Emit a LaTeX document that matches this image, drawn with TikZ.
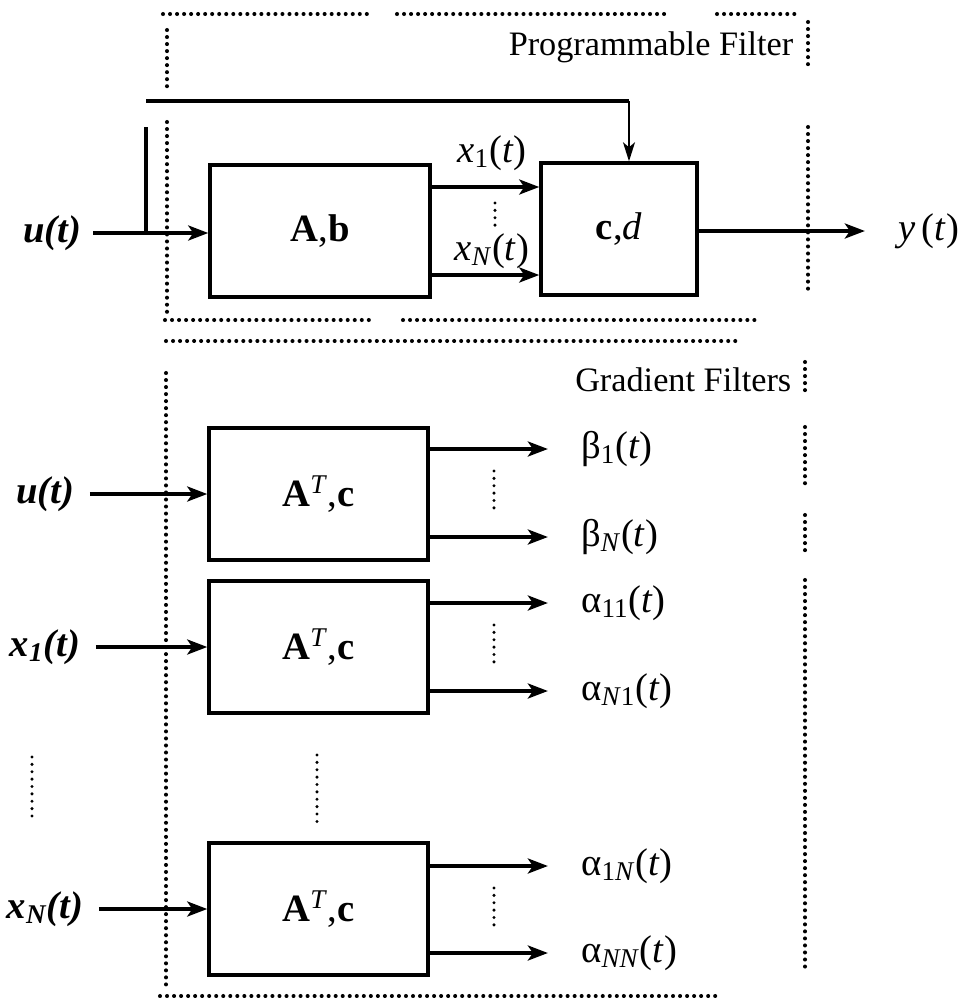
\documentclass[tikz,border=0pt]{standalone}
\usepackage{fontspec}
\setmainfont{Liberation Serif}
\usetikzlibrary{arrows.meta, positioning, calc}
\newcommand{\sgl}[2]{#1\textsubscript{#2}(\textit{t})}
\tikzset{
  every picture/.style={line width=2pt, font=\fontsize{22}{26}\selectfont},
  blk/.style={draw, line width=2pt, minimum height=2.64cm, inner sep=0pt},
  arrow/.style={-{Stealth[length=0.4cm, width=0.3cm, inset=0.1cm]}, line width=2pt},
  thinarrow/.style={-{Stealth[length=0.38cm, width=0.24cm, inset=0.1cm]}, line width=0.9pt},
  frame/.style={line width=2.3pt, dash pattern=on 0pt off 4pt, line cap=round},
  vdots/.style={line width=1.9pt, dash pattern=on 0pt off 4.2pt, line cap=round},
  sigin/.style={inner sep=2pt, font=\fontsize{22}{26}\selectfont\bfseries\itshape},
  sigout/.style={anchor=west, inner sep=2pt},
  heading/.style={anchor=east, inner sep=0pt, font=\fontsize{19.5}{23}\selectfont},
}

\begin{document}
\begin{tikzpicture}[x=0.02cm, y=-0.02cm]
  \useasboundingbox (0,0) rectangle (964,998);
  % programmable filter
  \draw[frame] (163,14) -- (370,14) (397,14) -- (668,14) (717,14) -- (800,14);
  \draw[frame] (167,30) -- (167,92) (167,122) -- (167,312);
  \draw[frame] (808,22) -- (808,68) (808,127) -- (808,295);
  \draw[frame] (165,320) -- (375,320) (403,320) -- (760,320);
  \node[heading] (ptitle) at (795,47) {Programmable Filter};
  \node[blk, minimum width=4.4cm] (ab) at (320,231) {\textbf{A},\textbf{b}};
  \node[blk, minimum width=3.12cm] (cd) at (619,229) {\textbf{c},\textit{d}};
  \node[sigin] (u0) at (52,233) {\textit{u}(\textit{t})};
  \node[sigout] (y0) at (893,231) {\textit{y}\,(\textit{t})};
  \node (x1) at (492,153) {\sgl{\textit{x}}{1}};
  \node (xn) at (492,251) {\sgl{\textit{x}}{\textit{N}}};
  \coordinate (tap) at (146,233);
  \coordinate (fb) at (629,101);
  \draw[arrow, shorten <=4pt] (u0.east) -- (ab.west |- u0);
  \draw (tap) -- ++(0,-106);
  \draw[line width=2.3pt] (fb -| tap) -- (fb);
  \draw[thinarrow] (fb) -- (fb |- cd.north);
  \draw[arrow] (ab.east |- 0,187) -- (cd.west |- 0,187);
  \draw[arrow] (ab.east |- 0,275) -- (cd.west |- 0,275);
  \draw[vdots] (495,203) -- (495,226);
  \draw[arrow, shorten >=16pt] (cd.east |- y0) -- (y0.west);
  % gradient filters
  \draw[frame] (166,341) -- (736,341);
  \draw[frame] (166,373) -- (166,990);
  \draw[frame] (805,362) -- (805,397) (805,427) -- (805,485) (805,515) -- (805,552) (805,580) -- (805,967);
  \draw[frame] (160,996) -- (719,996);
  \node[heading] (gtitle) at (793,380) {Gradient Filters};
  \foreach \n/\yc/\lab/\ya/\la/\yb/\lb in {
      1/494/{\textit{u}(\textit{t})}/449/{\sgl{β}{1}}/537/{\sgl{β}{\textit{N}}},
      2/647/{\sgl{\textit{x}}{1}}/603/{\sgl{α}{11}}/691/{\sgl{α}{\textit{N}1}},
      3/909/{\sgl{\textit{x}}{\textit{N}}}/866/{\sgl{α}{1\textit{N}}}/953/{\sgl{α}{\textit{NN}}}} {
    \node[blk, minimum width=4.38cm] (g\n) at (318.5,\yc) {\textbf{A}\textsuperscript{\textit{T}},\textbf{c}};
    \node[sigin] (in\n) at (45,\yc) {\lab};
    \node[sigout] (oa\n) at (576,\ya) {\la};
    \node[sigout] (ob\n) at (576,\yb) {\lb};
    \draw[arrow, shorten <=6pt] (in\n.east) -- (g\n.west |- in\n);
    \draw[arrow, shorten >=16pt] (g\n.east |- oa\n) -- (oa\n.west);
    \draw[arrow, shorten >=16pt] (g\n.east |- ob\n) -- (ob\n.west);
    \draw[vdots] ($(oa\n.west)+(-82,22)$) -- ($(ob\n.west)+(-82,-22)$);
  }
  \draw[vdots] (32,757) -- (32,823);
  \draw[vdots] (317,755) -- (317,823);
\end{tikzpicture}
\end{document}
